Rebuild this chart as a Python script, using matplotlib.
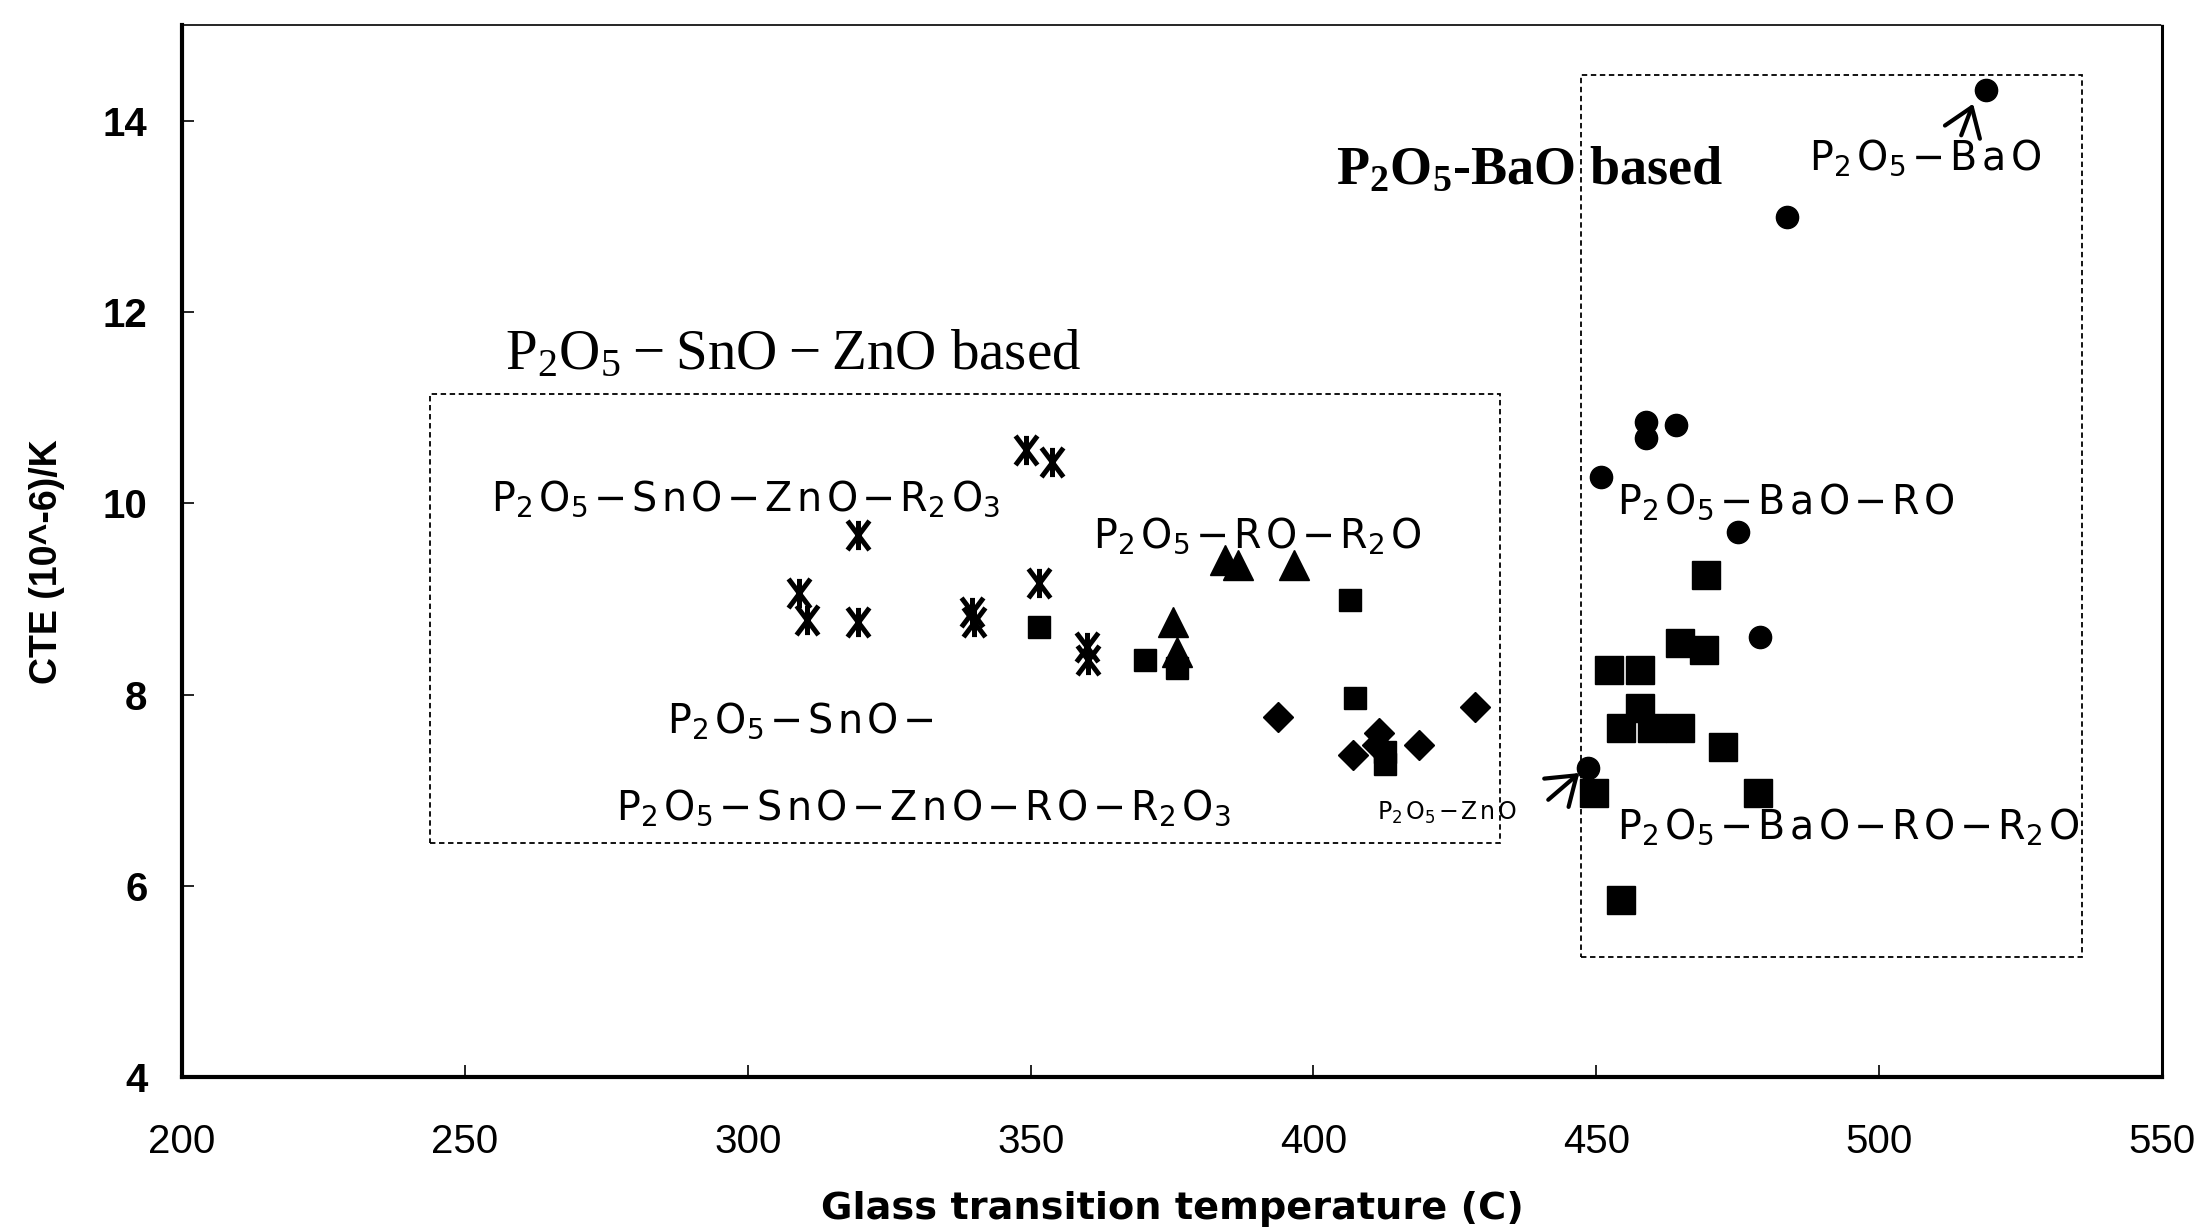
import re
import matplotlib
matplotlib.use('Agg')
import matplotlib.pyplot as plt
from matplotlib.patches import Rectangle
from matplotlib.path import Path

# --- data (Tg in C, CTE in 10^-6/K) ---
sno_zno_r2o3_tg = [349.1, 353.7, 319.4, 309.0, 310.4, 319.4, 339.6, 340.0, 351.4, 360.0, 360.2]
sno_zno_r2o3_cte = [10.56, 10.43, 9.67, 9.06, 8.78, 8.76, 8.86, 8.76, 9.17, 8.50, 8.36]

sno_tg = [351.4, 370.3, 375.8, 406.4, 407.4, 412.6, 412.6]
sno_cte = [8.71, 8.36, 8.28, 8.99, 7.96, 7.40, 7.27]

ro_r2o_tg = [384.3, 386.6, 396.5, 375.2, 375.8]
ro_r2o_cte = [9.41, 9.36, 9.36, 8.76, 8.45]

sno_zno_ro_tg = [393.8, 406.9, 411.5, 411.3, 418.6, 428.6]
sno_zno_ro_cte = [7.77, 7.37, 7.60, 7.47, 7.47, 7.87]

bao_ro_tg = [518.9, 483.7, 458.8, 458.8, 464.0, 450.9, 475.1, 479.0, 448.6]
bao_ro_cte = [14.32, 13.00, 10.85, 10.68, 10.82, 10.28, 9.70, 8.60, 7.23]

bao_ro_r2o_tg = [469.4, 464.7, 469.1, 452.3, 457.8, 457.8, 454.4, 459.9, 464.7, 472.4, 449.6, 478.6, 454.4]
bao_ro_r2o_cte = [9.25, 8.54, 8.47, 8.26, 8.26, 7.86, 7.65, 7.65, 7.65, 7.45, 6.97, 6.97, 5.85]

x_ticks = [200, 250, 300, 350, 400, 450, 500, 550]
y_ticks = [4, 6, 8, 10, 12, 14]

# group boxes: (tg_min, cte_min, tg_max, cte_max)
box_sno_zno = (243.8, 6.45, 432.9, 11.14)
box_bao = (447.3, 5.26, 535.9, 14.48)


def formula(s, gap=0.12):
    # P2O5-BaO -> spaced mathtext with subscripts, drawn in the text font
    toks = []
    for t in re.findall(r'[A-Za-z]\d*|-', s):
        if t == '-':
            toks.append('{-}')
        else:
            toks.append(t[0] + ('_' + t[1:] if len(t) > 1 else ''))
    return r'$\mathregular{' + (r'\hspace{%g}' % gap).join(toks) + '}$'


fig = plt.figure(figsize=(22.1, 12.32), dpi=100)
ax = fig.add_axes([0.0824, 0.1258, 0.8959, 0.8536])

# asterisk like glyph: X with a vertical bar
star = Path([(0, -1), (0, 1), (-0.75, 1), (0.75, -1), (-0.75, -1), (0.75, 1)],
            [Path.MOVETO, Path.LINETO, Path.MOVETO, Path.LINETO, Path.MOVETO, Path.LINETO])

ax.plot(sno_zno_r2o3_tg, sno_zno_r2o3_cte, ls='none', marker=star, ms=21,
        mec='black', mew=3.6)
ax.plot(sno_tg, sno_cte, ls='none', marker='s', ms=16.5, color='black')
ax.plot(ro_r2o_tg, ro_r2o_cte, ls='none', marker='^', ms=22, color='black')
ax.plot(sno_zno_ro_tg, sno_zno_ro_cte, ls='none', marker='D', ms=15.5, color='black')
ax.plot(bao_ro_tg, bao_ro_cte, ls='none', marker='o', ms=16, color='black')
ax.plot(bao_ro_r2o_tg, bao_ro_r2o_cte, ls='none', marker='s', ms=20, color='black')

for x0, y0, x1, y1 in (box_sno_zno, box_bao):
    ax.add_patch(Rectangle((x0, y0), x1 - x0, y1 - y0, fill=False,
                           ec='black', lw=1.3, ls=(0, (3, 2))))

# group titles (serif)
ax.text(257.1, 11.40, r'$\mathregular{P_2O_5-SnO-ZnO}$ based', fontsize=41,
        family='Liberation Serif', va='baseline')
ax.text(403.9, 13.35, r'$\mathregular{P_2O_5}$-BaO based', fontsize=39,
        family='Liberation Serif', fontweight='bold', va='baseline')

# composition labels (sans)
labels = [
    (487.6, 13.49, 'P2O5-BaO', 28.5),
    (254.6, 9.93, 'P2O5-SnO-ZnO-R2O3', 28.5),
    (361.0, 9.54, 'P2O5-RO-R2O', 28.5),
    (285.7, 7.60, 'P2O5-SnO-', 28.5),
    (276.7, 6.69, 'P2O5-SnO-ZnO-RO-R2O3', 28.5),
    (411.3, 6.69, 'P2O5-ZnO', 17),
    (453.7, 9.90, 'P2O5-BaO-RO', 28.5),
    (453.7, 6.50, 'P2O5-BaO-RO-R2O', 28.5),
]
for x, y, s, fs in labels:
    ax.text(x, y, formula(s), fontsize=fs, family='DejaVu Sans', va='baseline')

arrow = dict(arrowstyle='->,head_length=0.4,head_width=0.28', lw=3,
             color='black', mutation_scale=48, shrinkA=0, shrinkB=0)
ax.annotate('', xy=(516.6, 14.18), xytext=(514.5, 13.85), arrowprops=arrow)
ax.annotate('', xy=(447.0, 7.18), xytext=(441.5, 6.90), arrowprops=arrow)

ax.set_xlim(200, 550)
ax.set_ylim(4, 15)
ax.set_xticks(x_ticks)
ax.set_yticks(y_ticks)
ax.tick_params(direction='in', length=8.5, width=1.2, color='black')
ax.tick_params(axis='x', pad=33, labelsize=29)
ax.tick_params(axis='y', pad=25, labelsize=29)
for lab in ax.get_xticklabels():
    lab.set_family('Liberation Sans')
for lab in ax.get_yticklabels():
    lab.set_family('Liberation Sans')
    lab.set_fontweight('bold')

for side in ('left', 'bottom'):
    ax.spines[side].set_linewidth(3)
ax.spines['top'].set_linewidth(1.2)
ax.spines['top'].set_linestyle((0, (2, 1)))
ax.spines['right'].set_linewidth(2.2)
ax.spines['right'].set_linestyle((0, (2, 1)))

ax.set_xlabel('Glass transition temperature (C)', fontsize=27.5,
              fontweight='bold', family='DejaVu Sans')
ax.xaxis.set_label_coords(0.5, -0.108)
ax.set_ylabel('CTE (10^-6)/K', fontsize=27, fontweight='bold',
              family='Liberation Sans')
ax.yaxis.set_label_coords(-0.068, 0.49)
ax.yaxis.label.set_va('center')

fig.savefig('out.png', dpi=100)
